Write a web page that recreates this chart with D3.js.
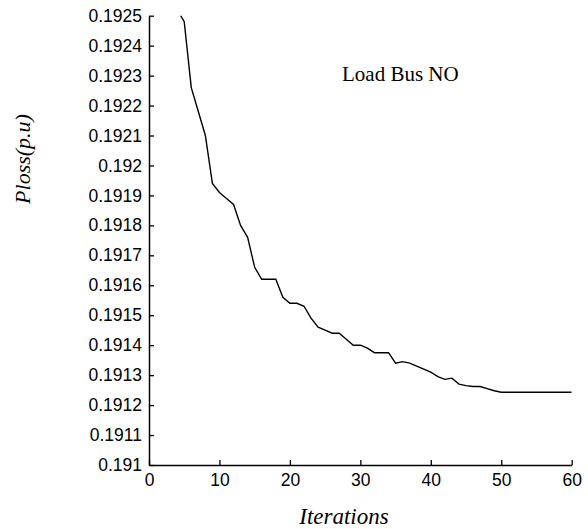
<!DOCTYPE html>
<html lang="en">
<head>
	<meta charset="UTF-8">
	<title>Ploss vs Iterations</title>
	<script src="https://d3js.org/d3.v7.min.js"></script>
	<style>
		body{margin:0;background:#fff;}
	</style>
</head>
<body>
	<script>

		var iterations = [4,5,6,7,8,9,10,11,12,13,14,15,16,17,18,19,20,21,22,23,24,25,26,27,28,29,30,
			31,32,33,34,35,36,37,38,39,40,41,42,43,44,45,46,47,48,49,50,51,52,53,54,55,56,57,58,59,60];
		var ploss = [0.19252,0.19248,0.19226,0.19218,0.19210,0.19194,0.19191,0.19189,0.19187,0.19180,
			0.19176,0.19166,0.19162,0.19162,0.19162,0.19156,0.19154,0.19154,0.19153,0.19149,
			0.19146,0.19145,0.19144,0.19144,0.19142,0.19140,0.19140,0.19139,0.191375,0.191375,
			0.191375,0.19134,0.191345,0.19134,0.19133,0.19132,0.19131,0.191295,0.191286,0.19129,
			0.19127,0.191265,0.191262,0.191262,0.191255,0.191248,0.191243,0.191243,0.191243,0.191243,
			0.191243,0.191243,0.191243,0.191243,0.191243,0.191243,0.191243];
		var xTicks = [0,10,20,30,40,50,60];
		var yTicks = [0.191,0.1911,0.1912,0.1913,0.1914,0.1915,0.1916,0.1917,0.1918,0.1919,
			0.192,0.1921,0.1922,0.1923,0.1924,0.1925];

		var w = 588;
		var h = 529;
		// plot box (window.top is reserved, so pTop etc.)
		var pLeft = 149, pRight = 571.7, pTop = 15.7, pBottom = 465;

		var svg = d3.select("body").append("svg")
			.attr("width", w)
			.attr("height", h);

		var x = d3.scaleLinear().domain([0,60]).range([pLeft,pRight]);
		var y = d3.scaleLinear().domain([0.191,0.1925]).range([pBottom,pTop]);

		svg.append("clipPath").attr("id","plot")
			.append("rect")
			.attr("x", pLeft).attr("y", pTop)
			.attr("width", pRight-pLeft).attr("height", pBottom-pTop);

		//axes
		var xAxis = d3.axisBottom(x).tickValues(xTicks).tickSizeInner(-5).tickSizeOuter(0).tickPadding(9);
		var yAxis = d3.axisLeft(y).tickValues(yTicks).tickSizeInner(-5).tickSizeOuter(0).tickPadding(7)
			.tickFormat(function(d){ return String(+d.toFixed(4)); });

		var gx = svg.append("g").attr("transform","translate(0,"+pBottom+")").call(xAxis);
		var gy = svg.append("g").attr("transform","translate("+pLeft+",0)").call(yAxis);

		[gx, gy].forEach(function(g){
			g.select(".domain").attr("stroke","#000").attr("stroke-width",1.5);
			g.selectAll(".tick line").attr("stroke","#000").attr("stroke-width",1.3);
			g.selectAll("text")
				.attr("fill","#000")
				.style("font-family","'Liberation Sans', Arial, sans-serif")
				.style("font-size","17.5px");
		});

		//line
		var line = d3.line()
			.x(function(d,i){ return x(iterations[i]); })
			.y(function(d){ return y(d); });

		svg.append("path")
			.datum(ploss)
			.attr("clip-path","url(#plot)")
			.attr("fill","none")
			.attr("stroke","#000")
			.attr("stroke-width",1.4)
			.attr("d", line);

		//labels
		svg.append("text")
			.attr("x", 342).attr("y", 81)
			.style("font-family","'Liberation Serif', 'Times New Roman', serif")
			.style("font-size","21px")
			.text("Load Bus NO");

		svg.append("text")
			.attr("x", 344).attr("y", 524)
			.attr("text-anchor","middle")
			.style("font-family","'Liberation Serif', 'Times New Roman', serif")
			.style("font-style","italic")
			.style("font-size","23px")
			.text("Iterations");

		svg.append("text")
			.attr("transform","translate(30,159) rotate(-90)")
			.attr("text-anchor","middle")
			.style("font-family","'Liberation Serif', 'Times New Roman', serif")
			.style("font-style","italic")
			.style("font-size","22px")
			.text("Ploss(p.u)");

	</script>
</body>
</html>
